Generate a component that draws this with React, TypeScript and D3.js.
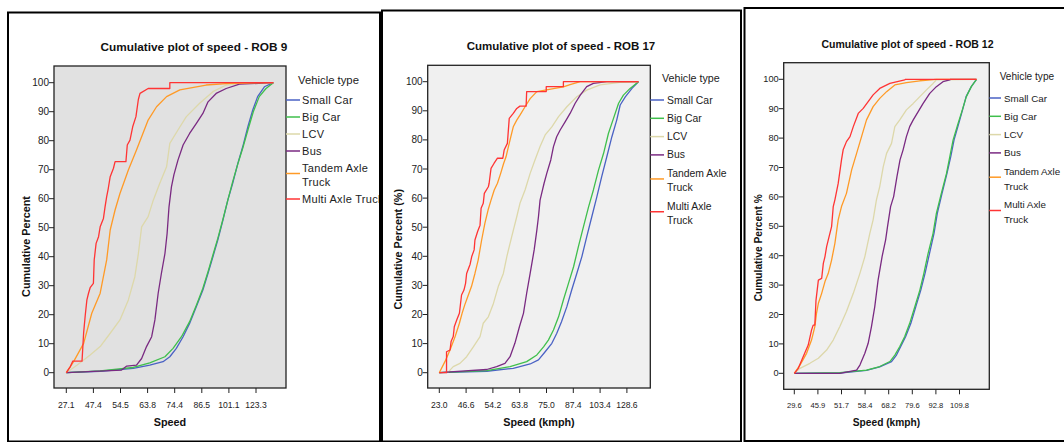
import React from 'react';
import * as d3 from 'd3';

type Pt = [number, number];

// x is the ordinal speed axis (SPSS spaces the categories evenly), in tick steps
const rob9Ticks = ['27.1', '47.4', '54.5', '63.8', '74.4', '86.5', '101.1', '123.3'];
const rob17Ticks = ['23.0', '46.6', '54.2', '63.8', '75.0', '87.4', '103.4', '128.6'];
const rob12Ticks = ['29.6', '45.9', '51.7', '58.4', '68.2', '79.6', '92.8', '109.8'];
const yTicks = [0, 10, 20, 30, 40, 50, 60, 70, 80, 90, 100];

const vehicleTypes = ['Small Car', 'Big Car', 'LCV', 'Bus', 'Tandem Axle Truck', 'Multi Axle Truck'];
const vehicleColors = ['#4a62c4', '#3fbf4c', '#ddd8aa', '#7a2a82', '#ff9a26', '#ff3434'];

// ---- ROB 9 ----
const rob9SmallCar: Pt[] = [[0, 0], [1.25, 0.5], [2.47, 1.5], [3.08, 2.6], [3.57, 3.8], [3.82, 5.5], [4.06, 8.4], [4.31, 12.4], [4.55, 17.0], [4.8, 22.8], [5.04, 28.5], [5.23, 34.3], [5.41, 40.0], [5.59, 45.7], [5.78, 52.6], [5.96, 59.5], [6.14, 65.3], [6.33, 72.2], [6.51, 77.9], [6.7, 84.8], [6.88, 90.6], [7.06, 95.2], [7.31, 98.6], [7.64, 100]];
const rob9BigCar: Pt[] = [[0, 0], [1.25, 0.6], [2.47, 1.8], [3.08, 3.4], [3.64, 5.5], [3.94, 8.4], [4.25, 12.4], [4.55, 17.6], [4.8, 23.3], [5.04, 29.1], [5.23, 34.8], [5.41, 40.6], [5.59, 46.3], [5.78, 52.9], [5.96, 59.5], [6.14, 65.9], [6.33, 72.0], [6.51, 77.4], [6.72, 84.3], [6.9, 90.0], [7.12, 95.2], [7.37, 98.0], [7.64, 100]];
const rob9LCV: Pt[] = [[0, 0], [0.39, 2.6], [0.88, 6.1], [1.25, 9.0], [1.62, 13.6], [1.98, 18.2], [2.29, 25.1], [2.53, 33.1], [2.66, 41.1], [2.78, 50.3], [3.02, 53.8], [3.21, 59.5], [3.45, 65.3], [3.7, 71.0], [3.82, 79.1], [4.12, 83.7], [4.43, 88.3], [4.92, 92.9], [5.41, 96.9], [5.9, 99.2], [6.76, 100], [7.64, 100]];
const rob9Bus: Pt[] = [[0, 0], [2.04, 0.9], [2.23, 2.3], [2.59, 2.6], [2.78, 4.9], [2.96, 9.0], [3.15, 12.4], [3.27, 18.2], [3.39, 27.4], [3.51, 34.3], [3.64, 41.1], [3.72, 48.0], [3.79, 57.2], [3.88, 64.1], [3.97, 68.2], [4.12, 73.3], [4.31, 78.5], [4.55, 82.5], [4.8, 86.0], [5.04, 89.4], [5.23, 93.4], [5.53, 96.3], [5.9, 98.0], [6.39, 99.5], [7.64, 100]];
const rob9Tandem: Pt[] = [[0, 0], [0.27, 3.8], [0.64, 10.1], [0.94, 20.5], [1.25, 27.4], [1.49, 38.9], [1.62, 49.2], [1.8, 56.1], [1.98, 61.8], [2.29, 69.9], [2.59, 76.8], [3.02, 87.1], [3.33, 91.7], [3.7, 95.2], [4.19, 97.5], [5.16, 99.2], [6.02, 99.8], [7.64, 100]];
const rob9Multi: Pt[] = [[0, 0], [0.15, 2.1], [0.24, 4.0], [0.58, 4.0], [0.64, 13.8], [0.7, 19.9], [0.76, 25.1], [0.82, 27.4], [0.88, 29.3], [1.0, 30.8], [1.03, 38.9], [1.1, 44.6], [1.19, 46.9], [1.25, 50.3], [1.37, 53.2], [1.43, 57.2], [1.49, 60.7], [1.55, 63.6], [1.62, 67.6], [1.74, 70.5], [1.8, 72.8], [2.2, 72.8], [2.25, 78.5], [2.35, 80.2], [2.45, 84.8], [2.57, 88.3], [2.66, 94.3], [2.72, 96.3], [3.02, 98.0], [3.82, 98.0], [3.82, 100], [7.64, 100]];

// ---- ROB 17 ----
const rob17SmallCar: Pt[] = [[0, 0], [1.77, 0.5], [2.76, 1.5], [3.39, 3.0], [3.7, 4.4], [3.95, 7.2], [4.2, 10.1], [4.38, 13.5], [4.56, 17.5], [4.76, 22.7], [4.94, 28.4], [5.13, 34.1], [5.32, 39.9], [5.5, 46.7], [5.69, 53.6], [5.88, 60.5], [6.06, 67.4], [6.25, 74.2], [6.44, 81.1], [6.62, 86.8], [6.75, 92.0], [6.94, 94.8], [7.19, 97.7], [7.43, 100]];
const rob17BigCar: Pt[] = [[0, 0], [1.77, 0.7], [2.64, 2.1], [3.26, 3.8], [3.64, 6.1], [3.89, 8.9], [4.07, 11.2], [4.26, 14.7], [4.45, 19.2], [4.63, 25.0], [4.82, 30.7], [5.01, 36.4], [5.19, 43.3], [5.38, 50.2], [5.57, 57.0], [5.75, 62.8], [5.94, 69.6], [6.13, 75.4], [6.31, 82.2], [6.5, 87.4], [6.69, 92.6], [6.87, 95.4], [7.12, 97.7], [7.43, 100]];
const rob17LCV: Pt[] = [[0, 0], [0.34, 0.3], [0.52, 2.1], [0.77, 3.2], [1.02, 5.5], [1.27, 8.9], [1.52, 12.4], [1.64, 17.0], [1.83, 19.2], [2.02, 23.8], [2.2, 29.6], [2.39, 34.1], [2.52, 39.9], [2.7, 46.7], [2.89, 53.6], [3.01, 58.2], [3.2, 62.8], [3.39, 68.5], [3.57, 73.1], [3.76, 77.7], [3.95, 81.7], [4.2, 84.5], [4.45, 88.0], [4.76, 91.4], [5.13, 94.8], [5.5, 97.1], [6.0, 98.9], [6.75, 99.8], [7.43, 100]];
const rob17Bus: Pt[] = [[0, 0], [1.77, 1.1], [2.14, 2.1], [2.45, 3.2], [2.64, 5.5], [2.82, 10.1], [2.99, 15.8], [3.14, 20.4], [3.26, 27.3], [3.39, 34.1], [3.54, 42.2], [3.64, 49.0], [3.7, 53.6], [3.76, 59.3], [3.82, 61.6], [3.91, 65.1], [4.01, 68.5], [4.16, 73.1], [4.26, 77.7], [4.38, 81.1], [4.51, 83.4], [4.7, 86.3], [4.88, 89.1], [5.07, 92.6], [5.26, 95.4], [5.5, 98.3], [5.75, 99.4], [6.25, 100], [7.43, 100]];
const rob17Tandem: Pt[] = [[0, 0], [0.21, 3.8], [0.4, 7.8], [0.59, 12.4], [0.75, 17.0], [0.85, 20.4], [0.95, 23.3], [1.06, 26.1], [1.2, 29.6], [1.33, 34.1], [1.45, 38.7], [1.58, 45.6], [1.7, 51.3], [1.82, 55.9], [1.93, 59.3], [2.05, 62.8], [2.17, 65.1], [2.29, 68.5], [2.4, 71.9], [2.49, 74.2], [2.58, 77.7], [2.67, 81.1], [2.76, 84.5], [2.89, 86.8], [3.01, 88.5], [3.2, 91.4], [3.39, 94.2], [3.64, 96.6], [3.95, 97.1], [4.26, 97.6], [4.63, 98.2], [4.88, 99.0], [5.26, 100], [7.43, 100]];
const rob17Multi: Pt[] = [[0, 0], [0.27, 0], [0.27, 7.2], [0.4, 7.8], [0.44, 10.7], [0.52, 12.4], [0.56, 15.8], [0.65, 18.1], [0.75, 20.4], [0.83, 26.7], [0.92, 28.4], [0.98, 30.7], [1.02, 34.1], [1.15, 37.3], [1.21, 39.9], [1.3, 42.2], [1.33, 45.6], [1.43, 48.5], [1.52, 50.7], [1.56, 56.5], [1.64, 58.2], [1.68, 61.6], [1.83, 63.9], [1.86, 65.1], [1.93, 70.2], [2.04, 71.9], [2.17, 73.7], [2.37, 73.7], [2.42, 76.5], [2.54, 78.8], [2.61, 87.4], [2.76, 89.1], [2.89, 90.8], [3.01, 91.6], [3.24, 91.6], [3.26, 96.6], [3.99, 96.6], [3.99, 98.3], [4.63, 98.3], [4.63, 100], [7.43, 100]];

// ---- ROB 12 ----
const rob12SmallCar: Pt[] = [[0, 0], [1.93, 0.1], [3.06, 1.0], [3.62, 2.2], [4.12, 4.0], [4.33, 6.2], [4.51, 9.1], [4.72, 12.5], [4.94, 17.0], [5.15, 22.7], [5.36, 28.3], [5.54, 34.0], [5.73, 40.8], [5.92, 47.6], [6.06, 54.4], [6.26, 61.2], [6.47, 68.0], [6.63, 73.7], [6.77, 79.4], [6.97, 85.0], [7.13, 89.6], [7.28, 94.1], [7.5, 97.5], [7.72, 100]];
const rob12BigCar: Pt[] = [[0, 0], [1.93, 0.2], [3.06, 1.1], [3.62, 2.3], [4.05, 4.0], [4.26, 6.2], [4.47, 9.1], [4.68, 12.5], [4.89, 17.0], [5.11, 22.7], [5.32, 28.3], [5.49, 34.0], [5.67, 40.8], [5.88, 47.6], [6.02, 54.4], [6.23, 61.2], [6.45, 68.0], [6.59, 73.7], [6.73, 79.4], [6.94, 85.0], [7.12, 89.6], [7.29, 94.1], [7.5, 97.5], [7.72, 100]];
const rob12LCV: Pt[] = [[0, 0], [0.24, 1.7], [0.66, 3.4], [1.02, 5.1], [1.37, 7.9], [1.65, 11.3], [1.93, 15.9], [2.21, 21.0], [2.5, 27.2], [2.78, 34.0], [2.99, 39.7], [3.2, 47.6], [3.34, 52.2], [3.48, 59.0], [3.62, 63.5], [3.77, 70.3], [3.91, 74.8], [4.12, 78.2], [4.26, 83.9], [4.47, 86.2], [4.75, 89.6], [5.04, 91.8], [5.32, 94.1], [5.6, 96.4], [5.88, 98.6], [6.02, 99.8], [7.72, 100]];
const rob12Bus: Pt[] = [[0, 0], [1.93, 0], [2.64, 1.1], [2.78, 2.8], [2.99, 6.8], [3.13, 10.2], [3.27, 15.9], [3.41, 22.7], [3.55, 31.7], [3.72, 39.7], [3.87, 45.4], [3.95, 49.9], [4.08, 56.7], [4.21, 60.1], [4.35, 66.9], [4.48, 72.6], [4.61, 76.0], [4.75, 80.5], [4.89, 83.9], [5.04, 86.2], [5.25, 89.0], [5.46, 91.8], [5.74, 95.2], [6.02, 97.5], [6.3, 99.2], [6.59, 99.8], [6.62, 100], [7.72, 100]];
const rob12Tandem: Pt[] = [[0, 0], [0.24, 2.8], [0.52, 6.8], [0.73, 11.3], [0.87, 15.9], [0.94, 20.4], [1.02, 23.8], [1.16, 27.2], [1.3, 31.2], [1.44, 34.0], [1.58, 38.5], [1.72, 44.2], [1.86, 52.2], [2.0, 56.7], [2.21, 61.2], [2.43, 69.2], [2.64, 74.8], [2.85, 80.5], [3.06, 86.2], [3.34, 90.7], [3.62, 93.5], [3.91, 95.8], [4.26, 98.1], [4.75, 98.9], [5.32, 99.5], [6.02, 100], [7.72, 100]];
const rob12Multi: Pt[] = [[0, 0], [0.17, 1.7], [0.38, 5.7], [0.59, 9.6], [0.73, 14.7], [0.8, 16.4], [0.87, 16.4], [0.92, 24.9], [1.02, 31.7], [1.16, 32.3], [1.23, 37.4], [1.3, 39.7], [1.37, 43.1], [1.44, 45.4], [1.58, 49.9], [1.65, 56.7], [1.72, 59.0], [1.79, 61.8], [1.86, 64.6], [1.93, 68.6], [2.0, 72.6], [2.07, 76.0], [2.21, 78.8], [2.36, 80.5], [2.5, 83.9], [2.71, 88.4], [2.92, 90.1], [3.13, 92.4], [3.34, 94.7], [3.62, 96.9], [4.05, 98.6], [4.68, 99.8], [4.7, 100], [7.72, 100]];

const FONT = '"Liberation Sans", Arial, Helvetica, sans-serif';

const panels = [
  {
    id: 'rob9', title: 'Cumulative plot of speed - ROB 9', yLabel: 'Cumulative Percent', xLabel: 'Speed',
    ticks: rob9Ticks, series: [rob9SmallCar, rob9BigCar, rob9LCV, rob9Bus, rob9Tandem, rob9Multi],
    frame: { x: 8, y: 12.5, w: 372, h: 429 }, clipRight: 380,
    plot: { l: 54, t: 66, r: 286, b: 388 }, x0: 66.3, step: 27.1, y0: 372.7, y100: 82.7,
    bg: '#e1e1e1', titlePos: [194, 47], titleSize: 11.8, yLabelPos: [25.7, 246.5], xLabelPos: [170, 422], labelSize: 10.8,
    yTickSize: 10, xTickSize: 8.6,
    legend: { titleX: 298, titleY: 80, lineX1: 286, lineX2: 300, textX: 302, first: 100, rowGap: 17, lineGap: 14, size: 11, spacing: 0.3, wrap: [false, false, false, false, true, false] },
  },
  {
    id: 'rob17', title: 'Cumulative plot of speed - ROB 17', yLabel: 'Cumulative Percent (%)', xLabel: 'Speed (kmph)',
    ticks: rob17Ticks, series: [rob17SmallCar, rob17BigCar, rob17LCV, rob17Bus, rob17Tandem, rob17Multi],
    frame: { x: 382, y: 10.5, w: 359, h: 431 }, clipRight: 741,
    plot: { l: 427.7, t: 65.3, r: 650.3, b: 388 }, x0: 439.3, step: 26.8, y0: 372.7, y100: 81.7,
    bg: '#f0f0f0', titlePos: [561, 46], titleSize: 11.5, yLabelPos: [398.3, 249.3], xLabelPos: [539, 422], labelSize: 10.8,
    yTickSize: 10, xTickSize: 8.6,
    legend: { titleX: 662, titleY: 78, lineX1: 650.3, lineX2: 664, textX: 667, first: 100, rowGap: 18.3, lineGap: 14.5, size: 10.4, spacing: 0, wrap: [false, false, false, false, true, true] },
  },
  {
    id: 'rob12', title: 'Cumulative plot of speed - ROB 12', yLabel: 'Cumulative Percent %', xLabel: 'Speed (kmph)',
    ticks: rob12Ticks, series: [rob12SmallCar, rob12BigCar, rob12LCV, rob12Bus, rob12Tandem, rob12Multi],
    frame: { x: 744.5, y: 8, w: 330, h: 433 }, clipRight: 1064,
    plot: { l: 783.7, t: 62.7, r: 989.3, b: 389.3 }, x0: 794.3, step: 23.6, y0: 373.3, y100: 79.3,
    bg: '#f0f0f0', titlePos: [907.5, 44], titleSize: 10.5, yLabelPos: [758.7, 247.8], xLabelPos: [886.5, 422.5], labelSize: 10.2,
    yTickSize: 9.2, xTickSize: 7.6,
    legend: { titleX: 999.7, titleY: 76, lineX1: 989.3, lineX2: 1001, textX: 1004, first: 98, rowGap: 18.3, lineGap: 15, size: 9.8, spacing: 0, wrap: [false, false, false, false, true, true] },
  },
];

const splitName = (name: string, wrap: boolean) => {
  if (!wrap) return [name];
  const i = name.lastIndexOf(' ');
  return [name.slice(0, i), name.slice(i + 1)];
};

const Panel = ({ p }: { p: typeof panels[number] }) => {
  const x = d3.scaleLinear().domain([0, 7]).range([p.x0, p.x0 + 7 * p.step]);
  const y = d3.scaleLinear().domain([0, 100]).range([p.y0, p.y100]);
  const line = d3.line<Pt>().x(d => x(d[0])).y(d => y(d[1]));
  const { plot, legend } = p;

  // legend rows
  let cy = legend.first;
  const rows = vehicleTypes.map((name, i) => {
    const lines = splitName(name, legend.wrap[i]);
    const row = { name, lines, y: cy, lineY: cy + (lines.length - 1) * legend.lineGap / 2 + (lines.length > 1 ? -1.5 : 0), color: vehicleColors[i] };
    cy += (lines.length - 1) * legend.lineGap + legend.rowGap;
    return row;
  });

  return (
    <g>
      <defs>
        <clipPath id={`clip-${p.id}`}>
          <rect x={p.frame.x} y={0} width={p.clipRight - p.frame.x} height={442} />
        </clipPath>
      </defs>
      <g clipPath={`url(#clip-${p.id})`} fontFamily={FONT}>
        <text x={p.titlePos[0]} y={p.titlePos[1]} textAnchor="middle" dominantBaseline="central" fontWeight="bold" fontSize={p.titleSize} fill="#111">{p.title}</text>

        <rect x={plot.l} y={plot.t} width={plot.r - plot.l} height={plot.b - plot.t} fill={p.bg} />
        {p.series.map((s, i) => (
          <path key={i} d={line(s) || ''} fill="none" stroke={vehicleColors[i]} strokeWidth={1.3} strokeLinejoin="round" />
        ))}
        <rect x={plot.l} y={plot.t} width={plot.r - plot.l} height={plot.b - plot.t} fill="none" stroke="#222" strokeWidth={1.3} />

        {yTicks.map(v => (
          <g key={v}>
            <line x1={plot.l - 5} x2={plot.l} y1={y(v)} y2={y(v)} stroke="#222" strokeWidth={1} />
            <text x={plot.l - 5} y={y(v)} textAnchor="end" dominantBaseline="central" fontSize={p.yTickSize} fill="#222">{v}</text>
          </g>
        ))}
        {p.ticks.map((t, i) => (
          <g key={t}>
            <line x1={x(i)} x2={x(i)} y1={plot.b} y2={plot.b + 5} stroke="#222" strokeWidth={1} />
            <text x={x(i)} y={plot.b + 16.5} textAnchor="middle" dominantBaseline="central" fontSize={p.xTickSize} fill="#222">{t}</text>
          </g>
        ))}

        <text x={p.xLabelPos[0]} y={p.xLabelPos[1]} textAnchor="middle" dominantBaseline="central" fontWeight="bold" fontSize={p.labelSize} fill="#111">{p.xLabel}</text>
        <text transform={`translate(${p.yLabelPos[0]},${p.yLabelPos[1]}) rotate(-90)`} textAnchor="middle" dominantBaseline="central" fontWeight="bold" fontSize={p.labelSize} fill="#111">{p.yLabel}</text>

        <text x={legend.titleX} y={legend.titleY} dominantBaseline="central" fontSize={legend.size + 0.3} fill="#222">Vehicle type</text>
        {rows.map(r => (
          <g key={r.name}>
            <line x1={legend.lineX1} x2={legend.lineX2} y1={r.lineY} y2={r.lineY} stroke={r.color} strokeWidth={1.5} />
            {r.lines.map((l, j) => (
              <text key={j} x={legend.textX} y={r.y + j * legend.lineGap} dominantBaseline="central" fontSize={legend.size} letterSpacing={legend.spacing} fill="#222">{l}</text>
            ))}
          </g>
        ))}
      </g>
      <rect x={p.frame.x} y={p.frame.y} width={p.frame.w} height={p.frame.h} fill="none" stroke="#000" strokeWidth={2} />
    </g>
  );
};

export default function App() {
  return (
    <svg width={1064} height={442} style={{ position: 'absolute', left: 0, top: 0, background: '#fff' }}>
      {panels.map(p => <Panel key={p.id} p={p} />)}
    </svg>
  );
}
